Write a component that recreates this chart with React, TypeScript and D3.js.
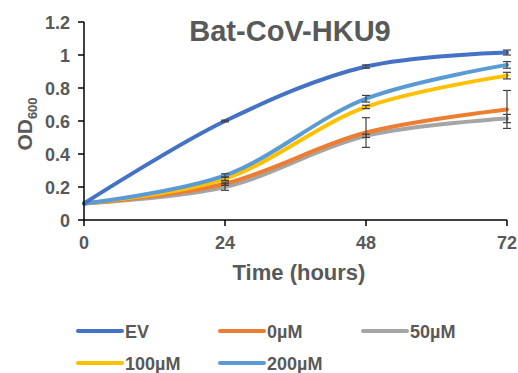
import * as d3 from "d3";

const hours = [0, 24, 48, 72];
const yTicks = [0, 0.2, 0.4, 0.6, 0.8, 1, 1.2];

const seriesNames = ["EV", "0µM", "50µM", "100µM", "200µM"];
const seriesColors = ["#4472C4", "#ED7D31", "#A5A5A5", "#FFC000", "#5B9BD5"];

const evValues = [0.1, 0.6, 0.93, 1.015];
const zeroValues = [0.1, 0.22, 0.53, 0.67];
const fiftyValues = [0.1, 0.2, 0.51, 0.615];
const hundredValues = [0.1, 0.25, 0.685, 0.875];
const twoHundredValues = [0.1, 0.27, 0.735, 0.94];

const evErr = [0, 0.005, 0.01, 0.015];
const zeroErr = [0, 0.01, 0.09, 0.115];
const fiftyErr = [0, 0.02, 0.01, 0.025];
const hundredErr = [0, 0.01, 0.01, 0.02];
const twoHundredErr = [0, 0.01, 0.02, 0.02];

const allValues = [evValues, zeroValues, fiftyValues, hundredValues, twoHundredValues];
const allErrors = [evErr, zeroErr, fiftyErr, hundredErr, twoHundredErr];

const FONT = "'Liberation Sans', Arial, sans-serif";
const TEXT = "#595959";

export default function App() {
  const x = d3.scaleLinear().domain([0, 72]).range([84, 507]);
  const y = d3.scaleLinear().domain([0, 1.2]).range([220, 22]);

  const line = d3
    .line<number>()
    .x((_, i) => x(hours[i]))
    .y((d) => y(d))
    .curve(d3.curveCatmullRom.alpha(0.5));

  // draw order: light first, EV on top
  const order = [2, 1, 3, 4, 0];

  const legendPos = [
    [78, 331],
    [220, 331],
    [363, 331],
    [78, 363],
    [220, 363],
  ];

  return (
    <svg
      width={518}
      height={373}
      style={{ position: "absolute", left: 0, top: 0, background: "#fff" }}
      fontFamily={FONT}
    >
      <text x={290} y={41} textAnchor="middle" fontSize={29} fontWeight="bold" fill={TEXT}>
        Bat-CoV-HKU9
      </text>

      {order.map((si) => (
        <path
          key={seriesNames[si]}
          d={line(allValues[si]) ?? ""}
          fill="none"
          stroke={seriesColors[si]}
          strokeWidth={4}
          strokeLinecap="round"
        />
      ))}

      {allValues.map((vals, si) =>
        vals.map((v, i) => {
          const e = allErrors[si][i];
          if (!e) return null;
          const cx = x(hours[i]);
          return (
            <g key={`${si}-${i}`} stroke="#404040" strokeWidth={1.2}>
              <line x1={cx} x2={cx} y1={y(v - e)} y2={y(v + e)} />
              <line x1={cx - 4} x2={cx + 4} y1={y(v - e)} y2={y(v - e)} />
              <line x1={cx - 4} x2={cx + 4} y1={y(v + e)} y2={y(v + e)} />
            </g>
          );
        })
      )}

      {/* y axis */}
      <line x1={x(0)} x2={x(0)} y1={y(1.2)} y2={y(0)} stroke="#000" strokeWidth={1.5} />
      {yTicks.map((t) => (
        <g key={t}>
          <line x1={x(0) - 6} x2={x(0)} y1={y(t)} y2={y(t)} stroke="#000" strokeWidth={1.5} />
          <text
            x={70}
            y={y(t) + 6.5}
            textAnchor="end"
            fontSize={18}
            fontWeight="bold"
            fill={TEXT}
          >
            {String(t)}
          </text>
        </g>
      ))}

      {/* x axis */}
      <line x1={x(0)} x2={x(72)} y1={y(0)} y2={y(0)} stroke="#000" strokeWidth={1.5} />
      {hours.map((h) => (
        <g key={h}>
          <line x1={x(h)} x2={x(h)} y1={y(0)} y2={y(0) + 6} stroke="#000" strokeWidth={1.5} />
          <text x={x(h)} y={249} textAnchor="middle" fontSize={18} fontWeight="bold" fill={TEXT}>
            {String(h)}
          </text>
        </g>
      ))}

      <text x={299} y={280} textAnchor="middle" fontSize={22} fontWeight="bold" fill={TEXT}>
        Time (hours)
      </text>

      <text
        transform="translate(32,124) rotate(-90)"
        textAnchor="middle"
        fontSize={21}
        fontWeight="bold"
        fill={TEXT}
      >
        OD
        <tspan fontSize={13} dy={5}>
          600
        </tspan>
      </text>

      {seriesNames.map((name, i) => {
        const [lx, ly] = legendPos[i];
        return (
          <g key={name}>
            <line
              x1={lx}
              x2={lx + 44}
              y1={ly}
              y2={ly}
              stroke={seriesColors[i]}
              strokeWidth={4}
              strokeLinecap="round"
            />
            <text x={lx + 47} y={ly + 6.5} fontSize={18} fontWeight="bold" fill={TEXT}>
              {name}
            </text>
          </g>
        );
      })}
    </svg>
  );
}
